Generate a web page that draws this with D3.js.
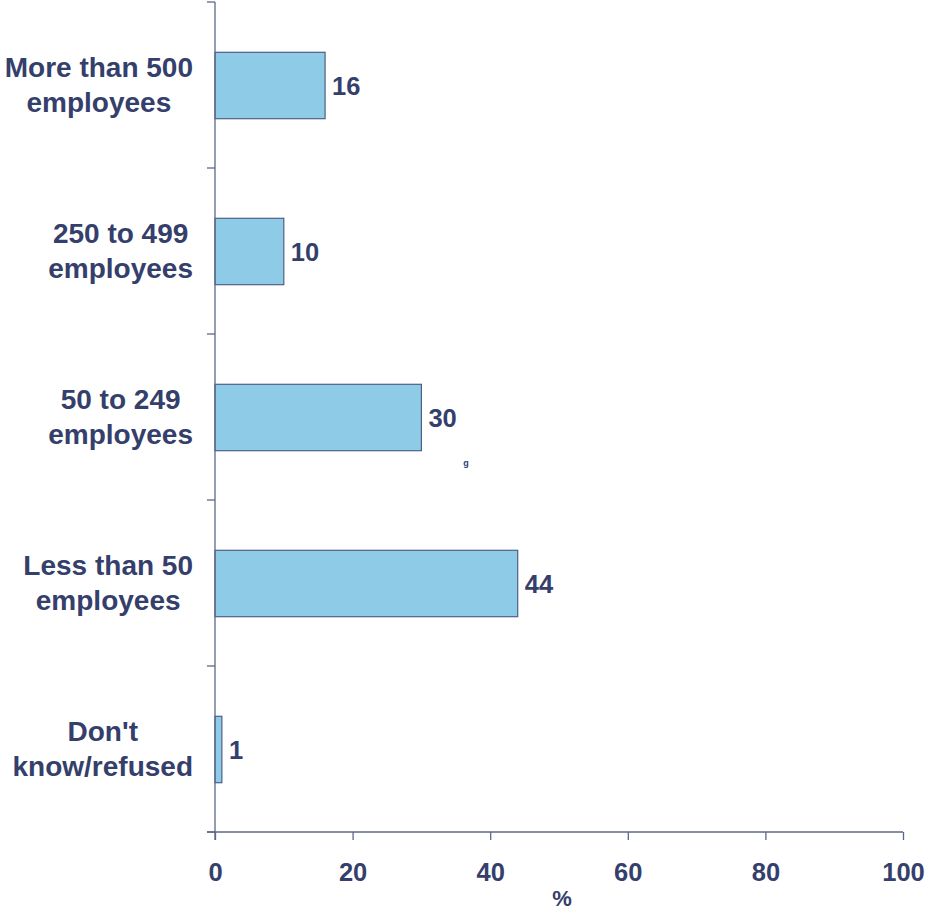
<!DOCTYPE html>
<html>
<head>
<meta charset="utf-8">
<script src="https://cdn.jsdelivr.net/npm/d3@7"></script>
<style>
  html, body { margin: 0; padding: 0; background: #fff; }
  svg { display: block; }
  text { font-family: "Liberation Sans", Arial, sans-serif; font-weight: bold; fill: #34406b; }
</style>
</head>
<body>
<svg id="chart" width="927" height="911"></svg>
<script>
// Company size categories, top to bottom
const categories = [
  ["More than 500", "employees"],
  ["250 to 499", "employees"],
  ["50 to 249", "employees"],
  ["Less than 50", "employees"],
  ["Don't", "know/refused"]
];
const values = [16, 10, 30, 44, 1];
const xTicks = [0, 20, 40, 60, 80, 100];
const axisTitle = "%";

const svg = d3.select("#chart");
const ink = "#34406b";
const axisColor = "#5d6889";

const x = d3.scaleLinear().domain([0, 100]).range([215, 903]);
const y = d3.scaleBand().domain(d3.range(categories.length)).range([2, 832]).padding(0);
const barH = y.bandwidth() * 0.4;

// Bars
svg.append("g").selectAll("rect")
  .data(values)
  .join("rect")
  .attr("x", x(0))
  .attr("y", (d, i) => y(i) + (y.bandwidth() - barH) / 2 + 0.5)
  .attr("width", d => x(d) - x(0))
  .attr("height", barH)
  .attr("fill", "#8ecbe6")
  .attr("stroke", "#4f5f86")
  .attr("stroke-width", 1.2);

// Value labels
svg.append("g").selectAll("text")
  .data(values)
  .join("text")
  .attr("x", d => x(d) + 7)
  .attr("y", (d, i) => y(i) + y.bandwidth() / 2 + 9.5)
  .attr("font-size", 25.5)
  .text(d => d);

// Vertical axis with ticks at band boundaries
const axisG = svg.append("g").attr("stroke", axisColor).attr("stroke-width", 1.3);
axisG.append("line").attr("x1", x(0)).attr("x2", x(0)).attr("y1", y.range()[0]).attr("y2", y.range()[1] + 8);
const bounds = d3.range(categories.length).map(i => y(i)).concat([y.range()[1]]);
axisG.selectAll(".yt").data(bounds).join("line")
  .attr("x1", x(0) - 8).attr("x2", x(0)).attr("y1", d => d).attr("y2", d => d);

// Horizontal axis
const xAxis = d3.axisBottom(x).tickValues(xTicks).tickSize(8).tickSizeOuter(0).tickPadding(23);
const gx = svg.append("g").attr("transform", `translate(0,${y.range()[1]})`).call(xAxis);
gx.select(".domain").remove();
gx.append("line").attr("x1", x(0) - 8).attr("x2", x(100)).attr("y1", 0).attr("y2", 0)
  .attr("stroke", axisColor).attr("stroke-width", 1.3);
gx.selectAll(".tick line").attr("stroke", axisColor).attr("stroke-width", 1.3);
gx.selectAll(".tick text")
  .attr("fill", ink)
  .attr("font-size", 25.5)
  .attr("font-family", "Liberation Sans, Arial, sans-serif")
  .attr("font-weight", "bold");

svg.append("text")
  .attr("x", 562).attr("y", 906)
  .attr("text-anchor", "middle")
  .attr("font-size", 22)
  .text(axisTitle);

// Category labels: block right-aligned, lines centred within block
const labelRight = 193;
const labelG = svg.append("g");
categories.forEach((lines, i) => {
  const cy = y(i) + y.bandwidth() / 2;
  const t = labelG.append("text").attr("font-size", 28).attr("text-anchor", "middle");
  const spans = lines.map((ln, k) => t.append("tspan").text(ln));
  const maxW = d3.max(spans, s => s.node().getComputedTextLength());
  const cx = labelRight - maxW / 2;
  spans.forEach((s, k) => {
    s.attr("x", cx).attr("y", cy + 9.5 + (k - (lines.length - 1) / 2) * 35);
  });
});

// Stray marker glyph
svg.append("text").attr("x", 466).attr("y", 466).attr("text-anchor", "middle")
  .attr("font-size", 9).text("g");
</script>
</body>
</html>
